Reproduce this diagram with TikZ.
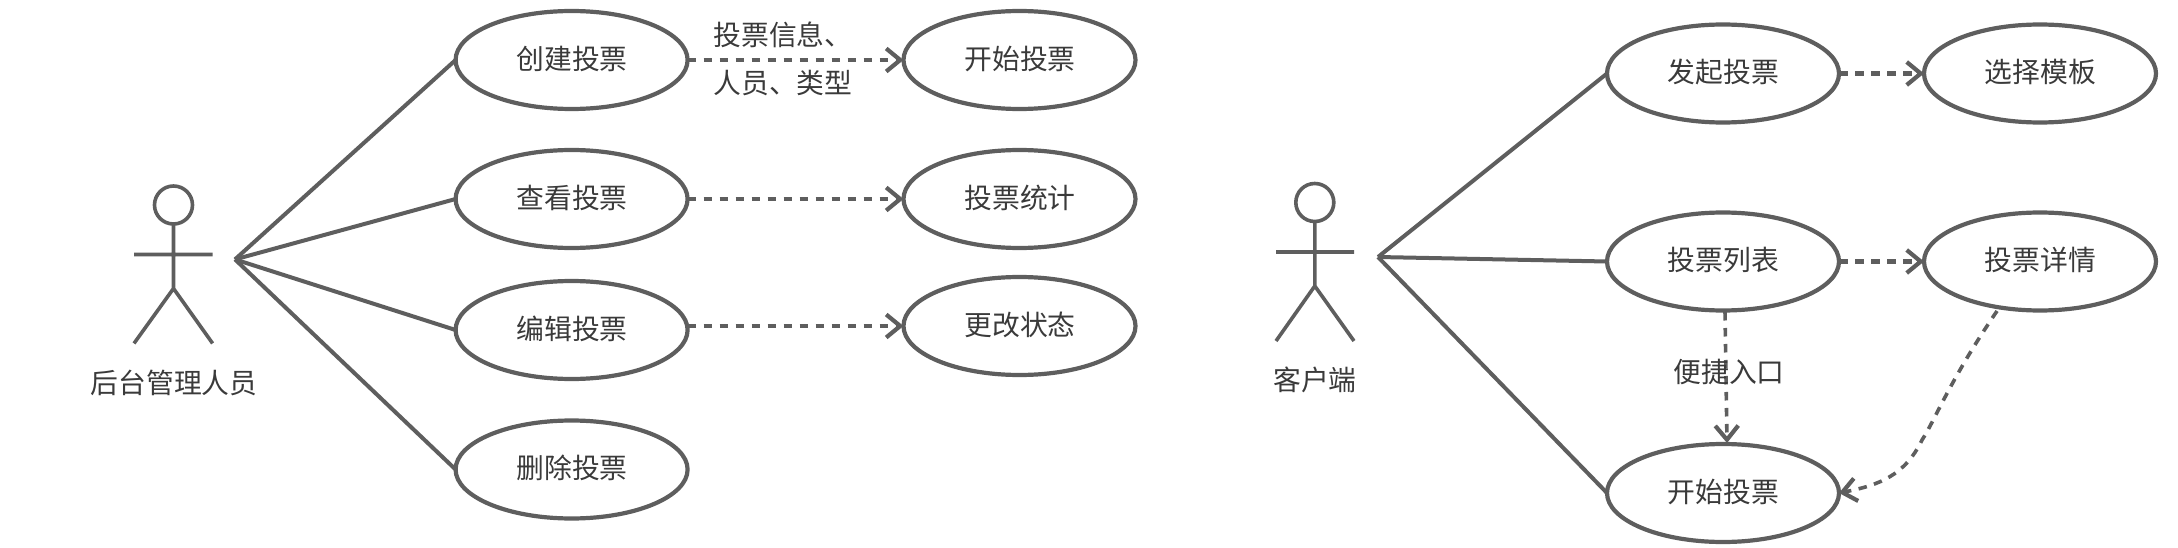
\documentclass[tikz,border=0pt]{standalone}
\usepackage{fontspec}
\setmainfont{Noto Sans CJK SC}
\usetikzlibrary{shapes.geometric,arrows.meta}
\definecolor{ln}{HTML}{5E5E5E}
\definecolor{tx}{HTML}{3A3A3A}
\tikzset{
  x=1pt,y=-1pt,
  uc/.style={shape=ellipse,draw=ln,line width=4.2pt,minimum width=232pt,minimum height=98pt,inner sep=0pt,outer sep=0pt,text=tx,text height=24.6pt,text depth=6.5pt,font=\fontsize{27.8pt}{33pt}\selectfont},
  lbl/.style={text=tx,inner sep=0pt,font=\fontsize{27.8pt}{33pt}\selectfont},
  solidln/.style={draw=ln,line width=4pt},
  stick/.style={draw=ln,line width=3.6pt},
  dep/.style={draw=ln,line width=4.4pt,dash pattern=on 8.5pt off 7.5pt,-{Straight Barb[length=14pt,width=23pt,line width=4.2pt]}},
}
\begin{document}
\begin{tikzpicture}
\useasboundingbox (0,0) rectangle (2178,548);
% left actor
\node[circle,draw=ln,line width=3.6pt,minimum size=38pt,inner sep=0pt,outer sep=0pt] (h1) at (173.5,205) {};
\coordinate (b1) at (173.5,288.5);
\coordinate (al1) at (134,254.5);
\coordinate (ar1) at (212.6,254.5);
\coordinate (ll1) at (134,343.4);
\coordinate (lr1) at (212.6,343.4);
\draw[stick] (h1.south) -- (b1) (al1) -- (ar1) (ll1) -- (b1) -- (lr1);
\node[lbl] (n1) at (174,383) {后台管理人员};
\coordinate (f1) at (235,259.4);
% left use cases
\node[uc] (a1) at (571.6,60) {\hspace{1pt}创建投票};
\node[uc] (a2) at (571.6,199) {\hspace{1pt}查看投票};
\node[uc] (a3) at (571.6,330) {\hspace{1pt}编辑投票};
\node[uc] (a4) at (571.6,469.5) {\hspace{1pt}删除投票};
\node[uc] (b1u) at (1019.5,60) {\hspace{1pt}开始投票};
\node[uc] (b2u) at (1019.5,199) {\hspace{1pt}投票统计};
\node[uc] (b3u) at (1019.5,326) {\hspace{1pt}更改状态};
\foreach \t in {a1,a2,a3,a4} \draw[solidln] (f1) -- (\t.west);
\draw[dep] (a1.east) -- (b1u.west);
\draw[dep] (a2.east) -- (b2u.west);
\draw[dep] (a3.east |- b3u.west) -- (b3u.west);
\node[lbl,align=left,font=\fontsize{27.8pt}{48pt}\selectfont] (t1) at (783,59) {投票信息、\\人员、类型};
% right actor
\node[circle,draw=ln,line width=3.6pt,minimum size=38pt,inner sep=0pt,outer sep=0pt] (h2) at (1314.8,202.5) {};
\coordinate (b2) at (1314.8,286);
\coordinate (al2) at (1276,252);
\coordinate (ar2) at (1354,252);
\coordinate (ll2) at (1276,341);
\coordinate (lr2) at (1354,341);
\draw[stick] (h2.south) -- (b2) (al2) -- (ar2) (ll2) -- (b2) -- (lr2);
\node[lbl] (n2) at (1315,380) {客户端};
\coordinate (f2) at (1378,257);
% right use cases
\node[uc] (c1) at (1723,73.5) {\hspace{1pt}发起投票};
\node[uc] (c2) at (1723,261.5) {\hspace{1pt}投票列表};
\node[uc] (c3) at (1723,493) {\hspace{1pt}开始投票};
\node[uc] (d1) at (2040,73.5) {\hspace{1pt}选择模板};
\node[uc] (d2) at (2040,261.5) {\hspace{1pt}投票详情};
\foreach \t in {c1,c2,c3} \draw[solidln] (f2) -- (\t.west);
\draw[dep] (c1.east) -- (d1.west);
\draw[dep] (c2.east) -- (d2.west);
\coordinate (s3) at (1725,312);
\coordinate (e3) at (1727,443);
\draw[dep,line width=3.6pt] (s3) -- (e3);
\node[lbl] (t2) at (1729,372) {便捷入口};
\coordinate (s4) at (1997,311);
\draw[dep,line width=3.6pt] (s4) .. controls (1950,380) and (1935,420) .. (1922,440) .. controls (1905,475) and (1880,485) .. (c3.east);
\end{tikzpicture}
\end{document}
